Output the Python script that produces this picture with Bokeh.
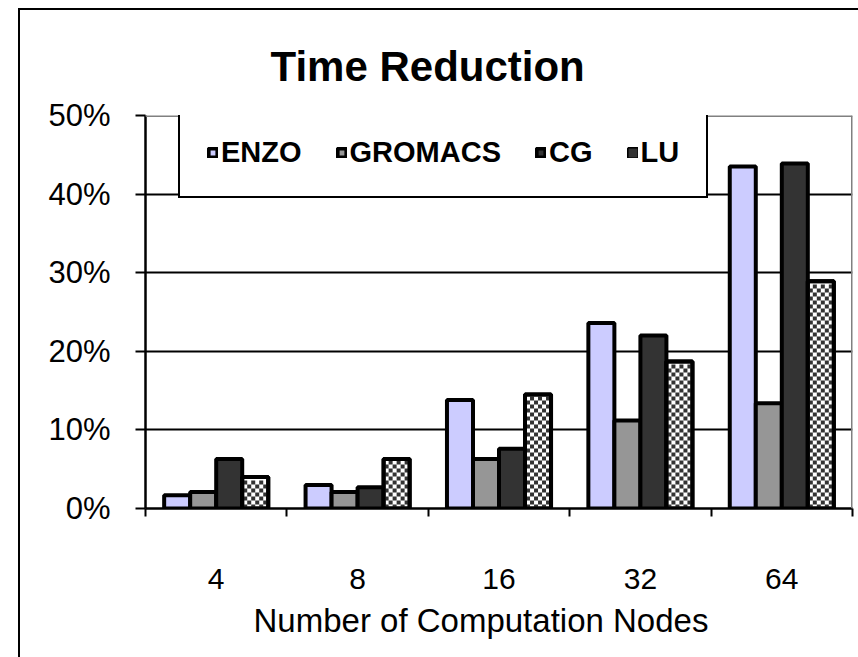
import numpy as np
from bokeh.plotting import figure
from bokeh.models import (Range1d, FixedTicker, Legend, LegendItem, Title, Span)
from bokeh.embed import file_html
from bokeh.resources import INLINE

# Percentage reduction in run time per application, by node count
nodes = ["4", "8", "16", "32", "64"]
enzo = [1.7, 3.0, 13.8, 23.6, 43.5]
gromacs = [2.1, 2.1, 6.3, 11.2, 13.4]
cg = [6.3, 2.7, 7.6, 22.0, 43.9]
lu = [4.0, 6.3, 14.5, 18.7, 28.9]
series_names = ["ENZO", "GROMACS", "CG", "LU"]
y_ticks = [0, 10, 20, 30, 40, 50]
y_tick_labels = ["0%", "10%", "20%", "30%", "40%", "50%"]

FONT = "Liberation Sans"
WIDTH, HEIGHT = 858, 657
BORDER_L, BORDER_R, BORDER_T, BORDER_B = 145, 6, 115, 149
Y_MAX = 50
BAR_LINE = 4

p = figure(width=WIDTH, height=HEIGHT, x_range=Range1d(0, len(nodes)), y_range=Range1d(0, Y_MAX),
           output_backend="svg", toolbar_location=None,
           min_border_left=BORDER_L, min_border_right=BORDER_R,
           min_border_top=BORDER_T, min_border_bottom=BORDER_B)
p.background_fill_color = "white"
p.border_fill_color = None
p.outline_line_color = None
p.xgrid.visible = False

# chart-area frame, drawn behind the transparent border area
p.styles = {
    "background": ("linear-gradient(black, black) 18px 8px / 2px 100% no-repeat, "
                   "linear-gradient(black, black) 18px 8px / 100% 2px no-repeat, white"),
}

# horizontal gridlines
p.ygrid.ticker = FixedTicker(ticks=y_ticks[1:-1])
p.ygrid.grid_line_color = "black"
p.ygrid.grid_line_width = 2

centers = np.arange(len(nodes)) + 0.5
bar_w = 0.184
offsets = (np.arange(len(series_names)) - 1.5) * bar_w

fills = ["#CCCCFF", "#969696", "#333333", "white"]
values = [enzo, gromacs, cg, lu]
renderers = []
for vals, off, fc in zip(values, offsets, fills):
    r = p.vbar(x=centers + off, top=vals, width=bar_w, bottom=0,
               fill_color=fc, line_color="black", line_width=BAR_LINE)
    renderers.append(r)

# checkerboard inside the LU bars: 4px cells laid out in data space
frame_w = WIDTH - BORDER_L - BORDER_R
frame_h = HEIGHT - BORDER_T - BORDER_B
px_x = frame_w / len(nodes)     # pixels per category
px_y = frame_h / Y_MAX          # pixels per percent
cell = 4
bar_px = bar_w * px_x
ncols = int(bar_px // cell)
cx, cy = [], []
for i, v in enumerate(lu):
    left = centers[i] + offsets[3] - bar_w / 2
    x0 = left + (bar_px - ncols * cell) / 2 / px_x
    nrows = int(v * px_y // cell)
    for row in range(nrows):
        for col in range(ncols):
            if (row + col) % 2 == 0:
                cx.append(x0 + (col + 0.5) * cell / px_x)
                cy.append((row + 0.5) * cell / px_y)
checks = p.rect(cx, cy, width=cell, height=cell, width_units="screen", height_units="screen",
                fill_color="#333333", line_color=None)
# LU outline redrawn above the checker cells
p.vbar(x=centers + offsets[3], top=lu, width=bar_w, bottom=0,
       fill_color=None, line_color="black", line_width=BAR_LINE)

# plot-area border on top and right
p.add_layout(Span(location=Y_MAX, dimension="width", line_color="#808080", line_width=3))
p.add_layout(Span(location=len(nodes), dimension="height", line_color="#808080", line_width=3))

# y axis
p.yaxis.ticker = FixedTicker(ticks=y_ticks)
p.yaxis.major_label_overrides = {t: lab for t, lab in zip(y_ticks, y_tick_labels)}
p.yaxis.major_label_text_font = FONT
p.yaxis.major_label_text_font_size = "31px"
p.yaxis.major_label_text_color = "black"
p.yaxis.major_label_standoff = 25
p.yaxis.major_tick_out = 10
p.yaxis.major_tick_in = 0
p.yaxis.major_tick_line_width = 2
p.yaxis.minor_tick_line_color = None
p.yaxis.axis_line_width = 2.5
p.yaxis.axis_line_color = "black"

# x axis: labels at category centres, tick marks at category boundaries
boundaries = list(np.arange(len(nodes) + 1).astype(float))
p.xaxis.ticker = FixedTicker(ticks=list(centers), minor_ticks=boundaries)
p.xaxis.major_label_overrides = {float(c): n for c, n in zip(centers, nodes)}
p.xaxis.major_label_text_font = FONT
p.xaxis.major_label_text_font_size = "30px"
p.xaxis.major_label_text_color = "black"
p.xaxis.major_label_standoff = 52
p.xaxis.major_tick_out = 0
p.xaxis.major_tick_in = 0
p.xaxis.minor_tick_out = 8
p.xaxis.minor_tick_in = 0
p.xaxis.minor_tick_line_color = "black"
p.xaxis.minor_tick_line_width = 2
p.xaxis.axis_line_width = 2.5
p.xaxis.axis_line_color = "black"

# titles
p.add_layout(Title(text="Time Reduction", align="left", offset=125, standoff=52,
                   text_font=FONT, text_font_style="bold", text_font_size="42px",
                   text_color="black"), "above")
p.add_layout(Title(text="Number of Computation Nodes", align="left", offset=108, standoff=17,
                   text_font=FONT, text_font_style="normal", text_font_size="33px",
                   text_color="black"), "below")

legend = Legend(items=[LegendItem(label=n, renderers=[r]) for n, r in zip(series_names[:3], renderers[:3])]
                + [LegendItem(label=series_names[3], renderers=[renderers[3], checks])],
                orientation="horizontal", location=(33, 310),
                border_line_color="black", border_line_width=2, border_line_alpha=1,
                background_fill_color="white", background_fill_alpha=1,
                padding=27, spacing=34, margin=0,
                glyph_width=11, glyph_height=11, label_standoff=3,
                label_text_font=FONT, label_text_font_style="bold",
                label_text_font_size="29px", label_text_color="black")
p.add_layout(legend, "center")

open("out.html", "w").write(file_html(p, INLINE))
